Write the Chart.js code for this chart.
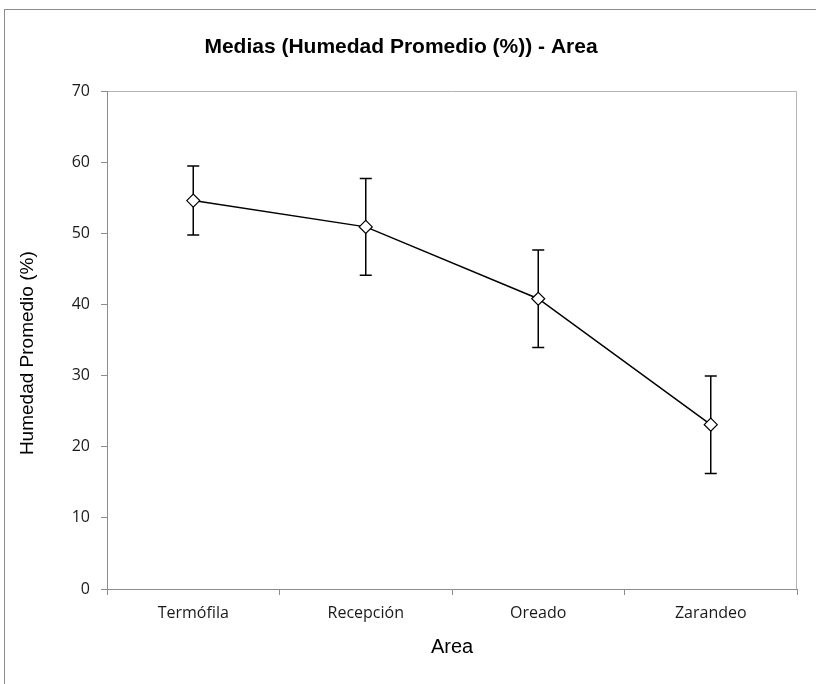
<!DOCTYPE html>
<html>
<head>
<meta charset="utf-8">
<script src="https://cdn.jsdelivr.net/npm/chart.js@4"></script>
<style>
  html, body { margin: 0; padding: 0; background: #fff; }
  #wrap { position: relative; width: 816px; height: 684px; }
  #frame {
    position: absolute; left: 4px; top: 9px; right: 0; bottom: 0;
    border-top: 1px solid #8c8c8c; border-left: 1px solid #8c8c8c;
  }
  canvas { position: absolute; left: 0; top: 0; }
</style>
</head>
<body>
<div id="wrap">
  <div id="frame"></div>
  <canvas id="myChart" width="816" height="684"></canvas>
</div>
<script>
// Values
const areas = ["Termófila", "Recepción", "Oreado", "Zarandeo"];
const humidityMeans = [54.6, 50.9, 40.8, 23.1];
const humidityErrors = [4.85, 6.8, 6.85, 6.85]; // half length of the error bars
const yTicks = [0, 10, 20, 30, 40, 50, 60, 70];

const tickFont = { family: "'Open Sans', sans-serif", size: 16 };
const titleFont = { family: "'Liberation Sans', Arial, sans-serif", size: 19 };

// Draw error bars under the markers, using the chart's own scales
const errorBars = {
  id: "errorBars",
  beforeDatasetsDraw(chart) {
    const ctx = chart.ctx;
    const x = chart.scales.x;
    const y = chart.scales.y;
    ctx.save();
    ctx.strokeStyle = "#000";
    ctx.lineWidth = 1.5;
    humidityMeans.forEach((m, i) => {
      const px = x.getPixelForValue(i);
      const top = y.getPixelForValue(m + humidityErrors[i]);
      const bot = y.getPixelForValue(m - humidityErrors[i]);
      ctx.beginPath();
      ctx.moveTo(px, top);
      ctx.lineTo(px, bot);
      ctx.moveTo(px - 6, top);
      ctx.lineTo(px + 6, top);
      ctx.moveTo(px - 6, bot);
      ctx.lineTo(px + 6, bot);
      ctx.stroke();
    });
    ctx.restore();
  },
};

// light border on the top and right of the plot area
const plotBorder = {
  id: "plotBorder",
  beforeDraw(chart) {
    const { ctx, chartArea: a } = chart;
    ctx.save();
    ctx.strokeStyle = "#b4b4b4";
    ctx.lineWidth = 1;
    ctx.beginPath();
    ctx.moveTo(a.left, a.top + 0.5);
    ctx.lineTo(a.right - 0.5, a.top + 0.5);
    ctx.lineTo(a.right - 0.5, a.bottom);
    ctx.stroke();
    ctx.restore();
  },
};

const ctx = document.getElementById("myChart").getContext("2d");

new Chart(ctx, {
  type: "line",
  data: {
    labels: areas,
    datasets: [
      {
        label: "Humedad Promedio (%)",
        data: humidityMeans,
        borderColor: "#000",
        borderWidth: 1.5,
        tension: 0,
        pointStyle: "rectRot",
        pointRadius: 6.5,
        pointBackgroundColor: "#fff",
        pointBorderColor: "#000",
        pointBorderWidth: 1.2,
        fill: false,
      },
    ],
  },
  options: {
    responsive: false,
    animation: false,
    layout: { padding: { left: 5, top: 9, right: 19, bottom: 0 } },
    plugins: {
      legend: { display: false },
      tooltip: { enabled: false },
      title: {
        display: true,
        text: "Medias (Humedad Promedio (%)) - Area",
        color: "#000",
        font: { family: "'Liberation Sans', Arial, sans-serif", size: 21, weight: "bold" },
        padding: { top: 26, bottom: 30.8 },
      },
    },
    scales: {
      x: {
        offset: true,
        grid: {
          offset: true,
          drawOnChartArea: false,
          tickLength: 6,
          color: "#8c8c8c",
        },
        border: { color: "#8c8c8c", width: 1 },
        ticks: { font: tickFont, color: "#1a1a1a", padding: 9, maxRotation: 0 },
        title: {
          display: true,
          text: "Area",
          color: "#000",
          font: { family: "'Liberation Sans', Arial, sans-serif", size: 20 },
          padding: { top: 0, bottom: 25 },
        },
        afterFit(scale) {
          scale.height = 95;
        },
      },
      y: {
        min: 0,
        max: 70,
        afterBuildTicks(scale) {
          scale.ticks = yTicks.map((v) => ({ value: v }));
        },
        grid: {
          drawOnChartArea: false,
          tickLength: 6,
          color: "#8c8c8c",
        },
        border: { color: "#8c8c8c", width: 1 },
        ticks: { font: tickFont, color: "#1a1a1a", padding: 11 },
        title: {
          display: true,
          // trailing spaces push the centred title a little lower, as in the original
          text: "Humedad Promedio (%)     ",
          color: "#000",
          font: titleFont,
          padding: { top: 11.6, bottom: 0 },
        },
        afterFit(scale) {
          scale.width = 102;
        },
      },
    },
  },
  plugins: [errorBars, plotBorder],
});
</script>
</body>
</html>
